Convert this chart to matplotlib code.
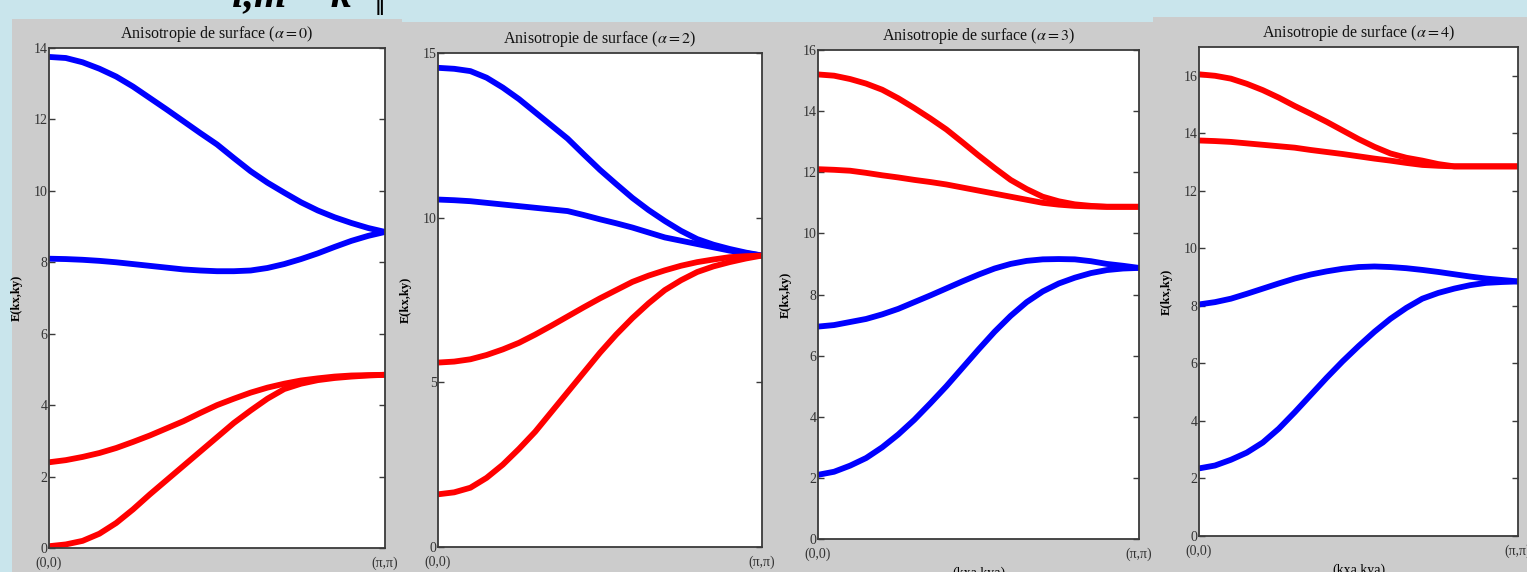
import matplotlib.pyplot as plt
from matplotlib.patches import Rectangle

# k path from (0,0) to (pi,pi), normalised 0..1, step 0.05
k = [i / 20 for i in range(21)]

# alpha = 0
a0_blue_hi = [13.75, 13.72, 13.6, 13.42, 13.2, 12.92, 12.6, 12.28, 11.95, 11.62, 11.3,
              10.92, 10.55, 10.23, 9.95, 9.68, 9.45, 9.26, 9.1, 8.96, 8.85]
a0_blue_lo = [8.1, 8.09, 8.07, 8.04, 8.0, 7.95, 7.9, 7.85, 7.8, 7.77, 7.75,
              7.75, 7.77, 7.84, 7.95, 8.09, 8.25, 8.43, 8.6, 8.74, 8.85]
a0_red_hi = [2.4, 2.46, 2.55, 2.66, 2.8, 2.97, 3.15, 3.35, 3.55, 3.78, 4.0,
             4.18, 4.35, 4.49, 4.6, 4.69, 4.75, 4.8, 4.83, 4.84, 4.85]
a0_red_lo = [0.05, 0.1, 0.2, 0.4, 0.7, 1.08, 1.5, 1.9, 2.3, 2.7, 3.1,
             3.5, 3.85, 4.18, 4.45, 4.6, 4.7, 4.76, 4.8, 4.83, 4.85]

# alpha = 2
a2_blue_hi = [14.55, 14.52, 14.45, 14.25, 13.95, 13.6, 13.2, 12.8, 12.4, 11.92, 11.45,
              11.02, 10.6, 10.23, 9.9, 9.6, 9.35, 9.18, 9.05, 8.94, 8.85]
a2_blue_lo = [10.55, 10.53, 10.5, 10.45, 10.4, 10.35, 10.3, 10.25, 10.2, 10.08, 9.95,
              9.83, 9.7, 9.55, 9.4, 9.3, 9.2, 9.1, 9.0, 8.92, 8.85]
a2_red_hi = [5.6, 5.63, 5.7, 5.83, 6.0, 6.2, 6.45, 6.72, 7.0, 7.28, 7.55,
             7.8, 8.05, 8.24, 8.4, 8.54, 8.65, 8.73, 8.8, 8.83, 8.85]
a2_red_lo = [1.6, 1.66, 1.8, 2.1, 2.5, 2.98, 3.5, 4.1, 4.7, 5.3, 5.9,
             6.45, 6.95, 7.4, 7.8, 8.1, 8.35, 8.52, 8.65, 8.76, 8.85]

# alpha = 3
a3_red_hi = [15.2, 15.16, 15.05, 14.9, 14.7, 14.42, 14.1, 13.76, 13.4, 12.98, 12.55,
             12.14, 11.75, 11.45, 11.2, 11.05, 10.95, 10.9, 10.87, 10.87, 10.87]
a3_red_lo = [12.1, 12.08, 12.05, 11.98, 11.9, 11.83, 11.75, 11.68, 11.6, 11.5, 11.4,
             11.3, 11.2, 11.1, 11.0, 10.94, 10.9, 10.88, 10.87, 10.87, 10.87]
a3_blue_hi = [6.95, 7.0, 7.1, 7.2, 7.35, 7.53, 7.75, 7.97, 8.2, 8.43, 8.65,
              8.85, 9.0, 9.1, 9.15, 9.16, 9.15, 9.09, 9.0, 8.94, 8.87]
a3_blue_lo = [2.1, 2.2, 2.4, 2.65, 3.0, 3.42, 3.9, 4.44, 5.0, 5.6, 6.2,
              6.78, 7.3, 7.75, 8.1, 8.36, 8.55, 8.7, 8.8, 8.85, 8.87]

# alpha = 4
a4_red_hi = [16.05, 16.0, 15.9, 15.72, 15.5, 15.24, 14.95, 14.68, 14.4, 14.1, 13.8,
             13.53, 13.3, 13.15, 13.05, 12.93, 12.85, 12.85, 12.85, 12.85, 12.85]
a4_red_lo = [13.75, 13.73, 13.7, 13.65, 13.6, 13.55, 13.5, 13.42, 13.35, 13.28, 13.2,
             13.12, 13.05, 12.97, 12.9, 12.87, 12.85, 12.85, 12.85, 12.85, 12.85]
a4_blue_hi = [8.05, 8.13, 8.25, 8.42, 8.6, 8.78, 8.95, 9.09, 9.2, 9.29, 9.35,
              9.37, 9.35, 9.31, 9.25, 9.18, 9.1, 9.02, 8.95, 8.9, 8.85]
a4_blue_lo = [2.35, 2.45, 2.65, 2.9, 3.25, 3.73, 4.3, 4.9, 5.5, 6.07, 6.6,
              7.1, 7.55, 7.93, 8.25, 8.45, 8.6, 8.72, 8.8, 8.83, 8.85]

alphas = [0, 2, 3, 4]
blue_sets = [(a0_blue_hi, a0_blue_lo), (a2_blue_hi, a2_blue_lo),
             (a3_blue_hi, a3_blue_lo), (a4_blue_hi, a4_blue_lo)]
red_sets = [(a0_red_hi, a0_red_lo), (a2_red_hi, a2_red_lo),
            (a3_red_hi, a3_red_lo), (a4_red_hi, a4_red_lo)]
ylims = [14, 15, 16, 17]
ytick_sets = [range(0, 15, 2), range(0, 16, 5), range(0, 17, 2), range(0, 17, 2)]
xtick_labels = ['(0,0)', '(π,π)']

W, H = 1527, 572
plt.rcParams['font.family'] = ['Liberation Serif', 'DejaVu Serif']
plt.rcParams['mathtext.fontset'] = 'stix'

fig = plt.figure(figsize=(W / 100, H / 100), dpi=100, facecolor='#c9e5ec')


def px_rect(x0, y0, x1, y1):
    # pixel box (top-left origin) -> figure fraction rect
    return [x0 / W, 1 - y1 / H, (x1 - x0) / W, (y1 - y0) / H]


# gray figure backgrounds (matlab style)
for x0, y0, x1 in [(12, 19, 402), (402, 22, 1153), (1153, 17, 1527)]:
    l, b, w, h = px_rect(x0, y0, x1, H)
    fig.patches.append(Rectangle((l, b), w, h, transform=fig.transFigure,
                                 facecolor='#cccccc', edgecolor='none', zorder=-10))

# slide heading, cut off at the top
fig.text(232 / W, 1 - 15 / H, 'i,m = k', fontsize=30, fontweight='bold',
         fontstyle='italic', color='black', va='bottom', ha='left')
fig.text(376 / W, 1 - 20 / H, '‖', fontsize=18, fontweight='bold',
         color='black', va='bottom', ha='left')

boxes = [(49, 48, 385, 548), (438, 53, 762, 547),
         (818, 50, 1139, 539), (1199, 47, 1518, 536)]

for i, box in enumerate(boxes):
    ax = fig.add_axes(px_rect(*box))
    for y in blue_sets[i]:
        ax.plot(k, y, color='#0000ff', lw=4.2, solid_capstyle='butt',
                solid_joinstyle='round')
    for y in red_sets[i]:
        ax.plot(k, y, color='#ff0000', lw=4.2, solid_capstyle='butt',
                solid_joinstyle='round')
    ax.set_xlim(0, 1)
    ax.set_ylim(0, ylims[i])
    ax.set_yticks(list(ytick_sets[i]))
    ax.set_xticks([0, 1])
    ax.set_xticklabels(xtick_labels, fontsize=9.5)
    ax.tick_params(direction='in', length=4, width=1, colors='#3a3a3a',
                   labelsize=10, labelcolor='#333333', right=True, pad=1)
    ax.tick_params(axis='x', length=0, pad=6)
    for s in ax.spines.values():
        s.set_color('#3a3a3a')
        s.set_linewidth(1.3)
    ax.set_title(r'Anisotropie de surface ($\alpha = %d$)' % alphas[i],
                 fontsize=11.5, color='#111111', pad=7)
    ax.set_ylabel('E(kx,ky)', fontsize=9, fontweight='bold', labelpad=8)
    if i >= 2:
        ax.set_xlabel('(kxa,kya)', fontsize=10, labelpad=4)

fig.savefig('out.png', dpi=100, facecolor=fig.get_facecolor())
